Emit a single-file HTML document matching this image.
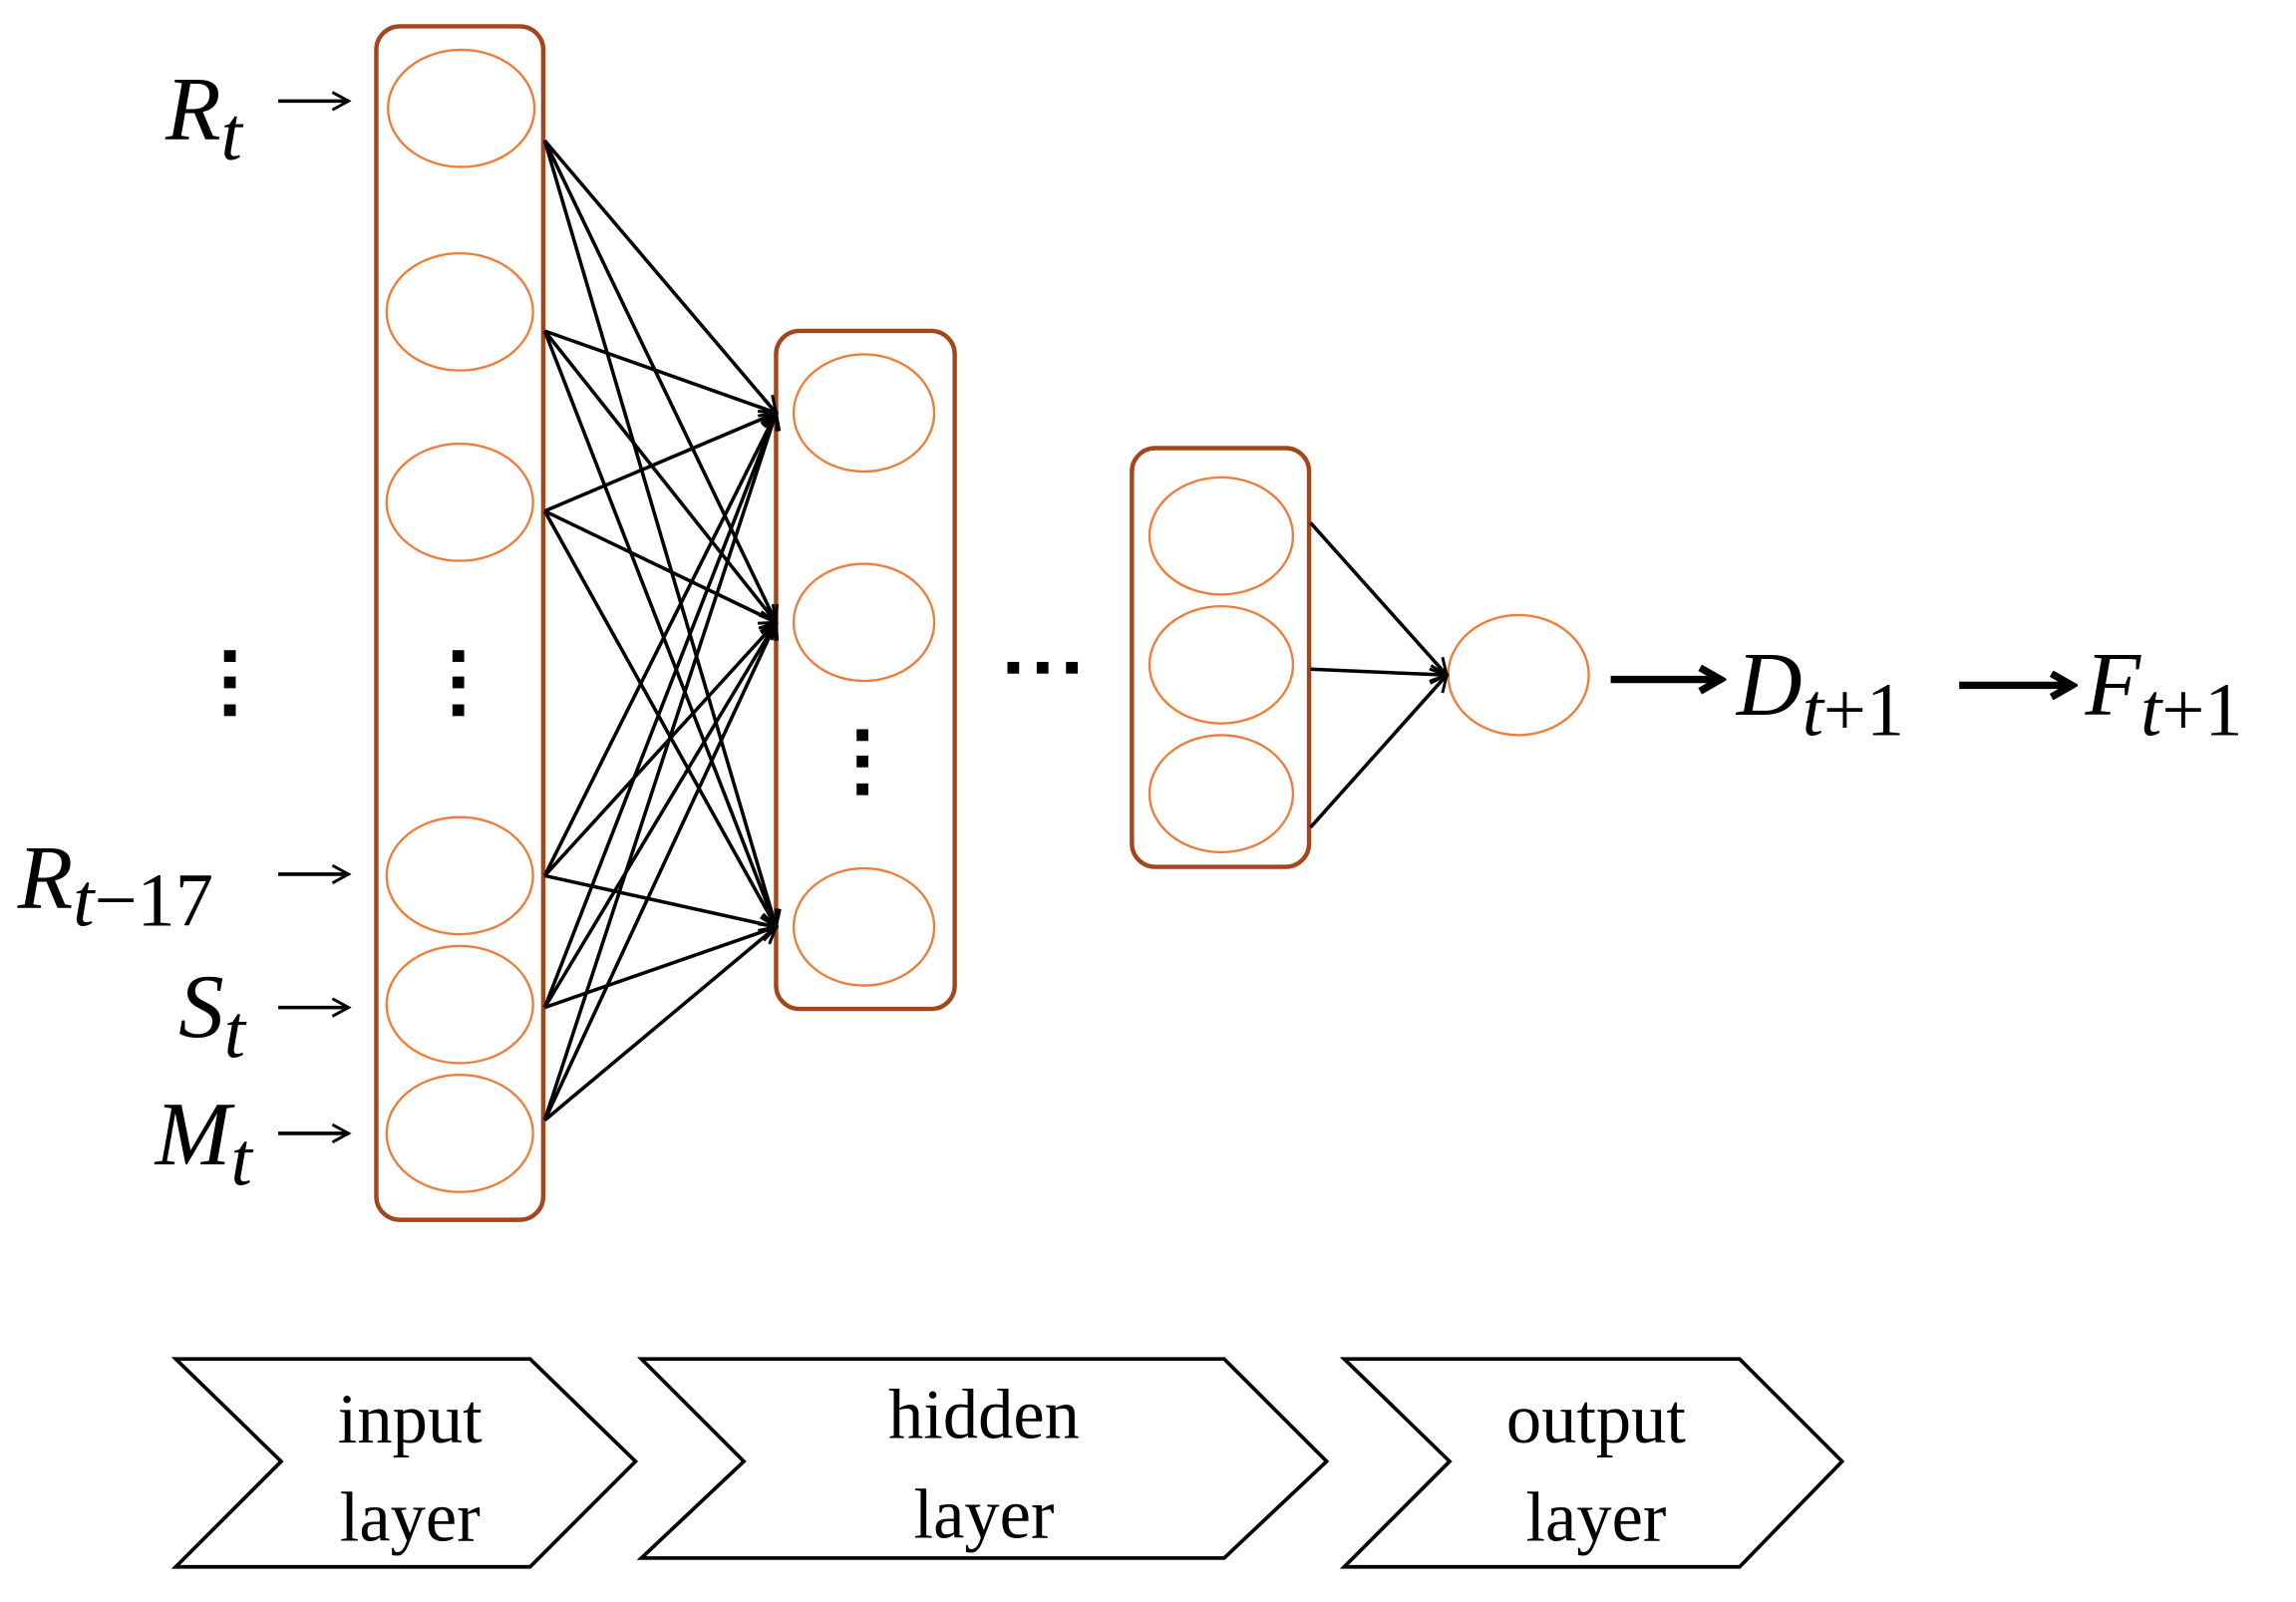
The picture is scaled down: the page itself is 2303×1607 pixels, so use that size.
<!DOCTYPE html>
<html><head><meta charset="utf-8"><style>html,body{margin:0;padding:0;background:#fff}svg{display:block}</style></head>
<body>
<svg width="2303" height="1607" viewBox="0 0 1568 1094" preserveAspectRatio="none" xmlns="http://www.w3.org/2000/svg">
<defs>
<marker id="a" markerWidth="14" markerHeight="14" refX="12" refY="7" orient="auto" markerUnits="userSpaceOnUse"><path d="M1,1 L12,7 L1,13" fill="none" stroke="#000" stroke-width="2"/></marker>
<marker id="b" markerWidth="20" markerHeight="20" refX="16" refY="10" orient="auto" markerUnits="userSpaceOnUse"><path d="M2,2 L16,10 L2,18" fill="none" stroke="#000" stroke-width="5"/></marker>
</defs>
<g fill="none" stroke="#a4451b" stroke-width="3">
<rect x="257" y="18" width="114" height="815" rx="16"/>
<rect x="530" y="226" width="122" height="463" rx="16"/>
<rect x="773" y="306" width="121" height="286" rx="16"/>
</g>
<g fill="none" stroke="#ee7d3a" stroke-width="1.6">
<ellipse cx="315" cy="74" rx="50" ry="40"/><ellipse cx="314" cy="213" rx="50" ry="40"/><ellipse cx="314" cy="343" rx="50" ry="40"/>
<ellipse cx="314" cy="598" rx="50" ry="40"/><ellipse cx="314" cy="686" rx="50" ry="40"/><ellipse cx="314" cy="774" rx="50" ry="40"/>
<ellipse cx="590" cy="282" rx="48" ry="40"/><ellipse cx="590" cy="425" rx="48" ry="40"/><ellipse cx="590" cy="633" rx="48" ry="40"/>
<ellipse cx="834" cy="366" rx="49" ry="40"/><ellipse cx="834" cy="454" rx="49" ry="40"/><ellipse cx="834" cy="542" rx="49" ry="40"/>
<ellipse cx="1037" cy="461" rx="48" ry="41"/>
</g>
<g stroke="#000" stroke-width="2.4" marker-end="url(#a)">
<line x1="372" y1="96" x2="530" y2="282"/><line x1="372" y1="96" x2="530" y2="425"/><line x1="372" y1="96" x2="530" y2="633"/>
<line x1="372" y1="226" x2="530" y2="282"/><line x1="372" y1="226" x2="530" y2="425"/><line x1="372" y1="226" x2="530" y2="633"/>
<line x1="372" y1="349" x2="530" y2="282"/><line x1="372" y1="349" x2="530" y2="425"/><line x1="372" y1="349" x2="530" y2="633"/>
<line x1="372" y1="598" x2="530" y2="282"/><line x1="372" y1="598" x2="530" y2="425"/><line x1="372" y1="598" x2="530" y2="633"/>
<line x1="372" y1="688" x2="530" y2="282"/><line x1="372" y1="688" x2="530" y2="425"/><line x1="372" y1="688" x2="530" y2="633"/>
<line x1="372" y1="765" x2="530" y2="282"/><line x1="372" y1="765" x2="530" y2="425"/><line x1="372" y1="765" x2="530" y2="633"/>
<line x1="895" y1="357" x2="988" y2="461"/><line x1="895" y1="457" x2="988" y2="461"/><line x1="895" y1="565" x2="988" y2="461"/>
<line x1="190" y1="69" x2="238" y2="69"/><line x1="190" y1="597" x2="238" y2="597"/><line x1="190" y1="688" x2="238" y2="688"/><line x1="190" y1="774" x2="238" y2="774"/>
</g>
<g stroke="#000" stroke-width="5" marker-end="url(#b)">
<line x1="1100" y1="464" x2="1175" y2="464"/><line x1="1338" y1="468" x2="1415" y2="468"/>
</g>
<g fill="#000">
<rect x="153" y="444" width="8" height="8"/><rect x="153" y="462" width="8" height="8"/><rect x="153" y="481" width="8" height="8"/>
<rect x="309" y="444" width="8" height="8"/><rect x="309" y="462" width="8" height="8"/><rect x="309" y="481" width="8" height="8"/>
<rect x="585" y="498" width="8" height="8"/><rect x="585" y="516" width="8" height="8"/><rect x="585" y="535" width="8" height="8"/>
<rect x="688" y="452" width="8" height="8"/><rect x="708" y="452" width="8" height="8"/><rect x="728" y="452" width="8" height="8"/>
</g>
<g font-family="Liberation Serif, serif" font-style="italic" font-size="62" fill="#000">
<text x="113" y="95">R<tspan font-size="52" dy="14">t</tspan></text>
<text x="12" y="620">R<tspan font-size="52" dy="12">t<tspan font-style="normal">−17</tspan></tspan></text>
<text x="122" y="708">S<tspan font-size="52" dy="14">t</tspan></text>
<text x="106" y="795">M<tspan font-size="52" dy="14">t</tspan></text>
<text x="1186" y="488">D<tspan font-size="52" dy="14">t<tspan font-style="normal">+1</tspan></tspan></text>
<text x="1424" y="488">F<tspan font-size="52" dy="14">t<tspan font-style="normal">+1</tspan></tspan></text>
</g>
<g fill="none" stroke="#000" stroke-width="2.5">
<polygon points="120,928 362,928 434,998 362,1070 120,1070 192,998"/>
<polygon points="438,928 836,928 906,998 836,1064 438,1064 508,998"/>
<polygon points="918,928 1188,928 1258,998 1188,1070 918,1070 990,998"/>
</g>
<g font-family="Liberation Serif, serif" font-size="48" fill="#000" text-anchor="middle">
<text x="280" y="985">input</text><text x="280" y="1052">layer</text>
<text x="672" y="982">hidden</text><text x="672" y="1050">layer</text>
<text x="1090" y="985">output</text><text x="1090" y="1052">layer</text>
</g>
</svg>
</body></html>
